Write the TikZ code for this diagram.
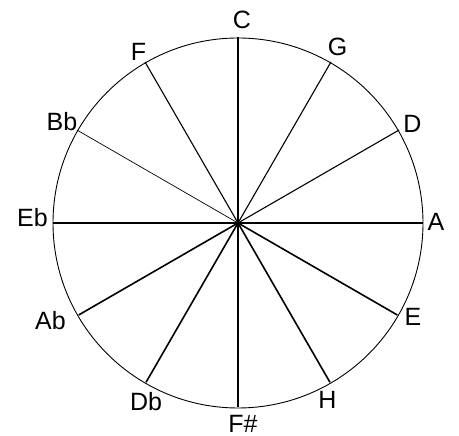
\documentclass[tikz,border=0pt]{standalone}
\usepackage{fontspec}
\setmainfont{Liberation Sans}
\usetikzlibrary{calc}

\begin{document}
\begin{tikzpicture}[
    x=1pt, y=1pt,
    rim/.style={draw, line width=0.9pt},
    spoke/.style={line width=1.1pt},
    heavy/.style={line width=1.6pt},
    faint/.style={line width=0.7pt},
    note/.style={font=\fontsize{25}{30}\selectfont, inner sep=0pt}
]
    \useasboundingbox (0, 0) rectangle (459, 436);
    \coordinate (hub) at (238, 213);
    \draw[rim] (hub) circle[radius=185];

    \coordinate (pC)  at ($(hub)+(90:186)$);
    \coordinate (pG)  at ($(hub)+(60:186)$);
    \coordinate (pD)  at ($(hub)+(30:186)$);
    \coordinate (pA)  at ($(hub)+(0:185)$);
    \coordinate (pE)  at ($(hub)+(-30:184)$);
    \coordinate (pH)  at ($(hub)+(-60:184)$);
    \coordinate (pFs) at ($(hub)+(-90:184)$);
    \coordinate (pDb) at ($(hub)+(-120:184)$);
    \coordinate (pAb) at ($(hub)+(-150:184)$);
    \coordinate (pEb) at ($(hub)+(180:185)$);
    \coordinate (pBb) at ($(hub)+(150:186)$);
    \coordinate (pF)  at ($(hub)+(120:186)$);

    \node[note] (C)  at (242, 416.5) {C};
    \node[note] (G)  at (337.5, 389.5) {G};
    \node[note] (D)  at (412.5, 312.5) {D};
    \node[note] (A)  at (436, 214.5) {A};
    \node[note] (E)  at (413, 119.5) {E};
    \node[note] (H)  at (327.5, 36) {H};
    \node[note] (Fs) at (243, 12.5) {F\#};
    \node[note] (Db) at (146, 34) {Db};
    \node[note] (Ab) at (50.5, 115.5) {Ab};
    \node[note] (Eb) at (32.5, 218.5) {Eb};
    \node[note] (Bb) at (62, 314) {Bb};
    \node[note] (F)  at (138.5, 384) {F};

    \draw[spoke] (hub) -- (pC);
    \draw[spoke] (hub) -- (pG);
    \draw[spoke] (hub) -- (pD);
    \draw[heavy] (hub) -- (pA);
    \draw[heavy] (hub) -- (pE);
    \draw[heavy] (hub) -- (pH);
    \draw[heavy] (hub) -- (pFs);
    \draw[heavy] (hub) -- (pDb);
    \draw[heavy] (hub) -- (pAb);
    \draw[heavy] (hub) -- (pEb);
    \draw[faint] (hub) -- (pBb);
    \draw[spoke] (hub) -- (pF);
\end{tikzpicture}
\end{document}
